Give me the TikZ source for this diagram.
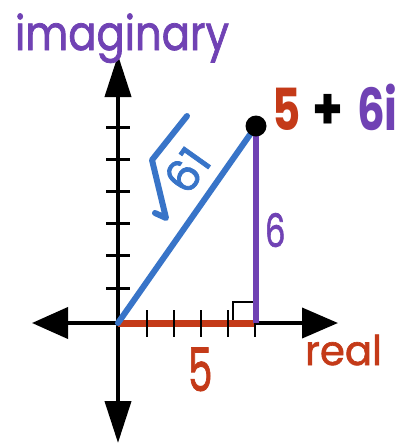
\documentclass[tikz,border=0pt]{standalone}
\usepackage{fontspec}
\setmainfont{Poppins}
\newfontfamily\medfont[FakeBold=1.6]{Poppins}
\usetikzlibrary{arrows.meta}
\definecolor{cred}{RGB}{196,58,24}
\definecolor{cpurple}{RGB}{112,66,180}
\definecolor{cblue}{RGB}{56,116,200}
\tikzset{
  axisline/.style={line width=4pt, black},
  tickline/.style={line width=2.2pt, black},
  lbl/.style={inner sep=0pt, outer sep=0pt},
}
\newcommand{\xs}[2]{\scalebox{#1}[1]{#2}}
\begin{document}
\begin{tikzpicture}[x=1pt,y=-1pt]
\useasboundingbox[fill=white] (0,0) rectangle (405,445);
% named points
\coordinate (O) at (118,323);
\coordinate (L) at (32,323);
\coordinate (R) at (338,323);
\coordinate (T) at (118,55);
\coordinate (B) at (118,443);
\coordinate (P) at (256,126);
\coordinate (F) at (256,323);
% axes
\draw[axisline, -{Triangle[length=36pt,width=30pt]}] (O) -- (R);
\draw[axisline, -{Triangle[length=36pt,width=31pt]}] (O) -- (L);
\draw[axisline, -{Triangle[length=42pt,width=26pt]}] (O) -- (T);
\draw[axisline, -{Triangle[length=42pt,width=26pt]}] (O) -- (B);
% vertical ticks
\foreach \yy in {127,159,191,223,255,288}
  \draw[line width=3pt] (106,\yy) -- (130,\yy);
% real part segment
\draw[cred, line width=7pt] (O) -- (F);
% horizontal ticks
\foreach \xx in {147,174,201,228,255}
  \draw[tickline] (\xx,310) -- (\xx,337);
% imaginary part
\draw[cpurple, line width=6pt] (F) -- (P);
% right angle mark
\draw[black, line width=2pt] (233,320) -- (233,302) -- (253,302);
% hypotenuse
\draw[cblue, line width=6pt, line cap=round] (O) -- (P);
% point
\fill[black] (P) circle (10.5pt);
% radical
\draw[cblue, line width=6pt, line cap=round, line join=round]
  (187,116) -- (152,160) -- (166,218) -- (155,213);
\node[lbl, text=cblue, rotate=54.6, font=\fontsize{45}{45}\medfont] (sq) at (187,170) {61};
% labels
\node[lbl, anchor=base west, text=cpurple, font=\fontsize{48}{48}\medfont] (im) at (15,50) {\xs{0.87}{imaginary}};
\node[lbl, anchor=base west, text=cred, font=\fontsize{58}{58}\selectfont\bfseries] (z5) at (272,130) {\xs{0.75}{5}};
\node[lbl, text=black, font=\fontsize{58}{58}\selectfont\bfseries] (zp) at (328,112) {\xs{0.85}{+}};
\node[lbl, anchor=base west, text=cpurple, font=\fontsize{58}{58}\selectfont\bfseries] (z6) at (357,130) {\xs{0.75}{6i}};
\node[lbl, anchor=base west, text=cpurple, font=\fontsize{46}{46}\medfont] (six) at (265,247) {\xs{0.7}{6}};
\node[lbl, anchor=base west, text=cred, font=\fontsize{60}{60}\medfont] (five) at (188,391) {\xs{0.65}{5}};
\node[lbl, anchor=base west, text=cred, font=\fontsize{41}{41}\medfont] (re) at (305,365) {\xs{0.98}{real}};
\end{tikzpicture}
\end{document}
